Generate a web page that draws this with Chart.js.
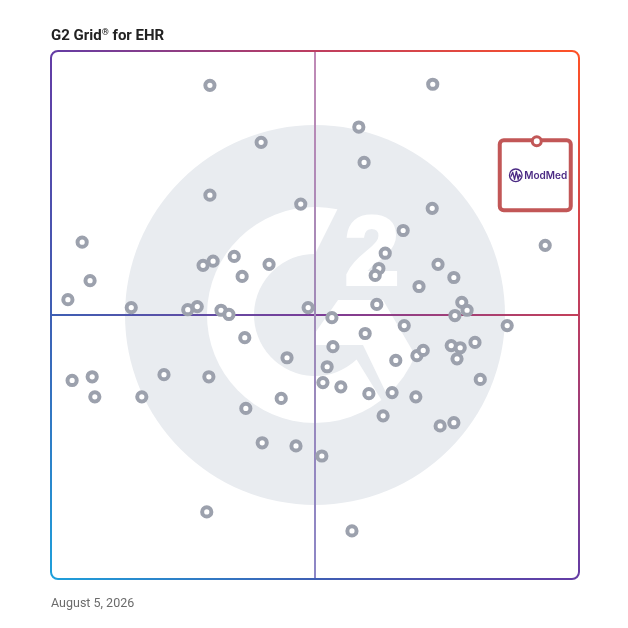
<!DOCTYPE html>
<html>
<head>
<meta charset="utf-8">
<script src="https://cdn.jsdelivr.net/npm/chart.js@4.4.1/dist/chart.umd.min.js"></script>
<style>
  html, body { margin: 0; padding: 0; background: #fff; }
  #wrap { position: relative; width: 628px; height: 628px; }
  #title { position: absolute; left: 51px; top: 28px; font: 700 15px Roboto, "Liberation Sans", sans-serif; color: #222; line-height: 15px; white-space: nowrap; }
  #title sup { font-size: 9px; vertical-align: 5px; line-height: 0; }
  #date { position: absolute; left: 51px; top: 597px; font: 400 12.5px Roboto, "Liberation Sans", sans-serif; color: #6b6b6b; line-height: 12.5px; white-space: nowrap; }
  canvas { position: absolute; left: 0; top: 0; }
</style>
</head>
<body>
<div id="wrap">
  <canvas id="c" width="628" height="628"></canvas>
  <div id="title">G2 Grid<sup>®</sup> for EHR</div>
  <div id="date">August 5, 2026</div>
</div>
<script>
// Satisfaction (x) and Market Presence (y), 0–100 scale
const satisfaction = [30.1,39.8,30.1,47.3,5.9,7.4,3.2,15.2,28.8,30.7,
  34.7,36.2,41.3,25.9,27.7,32.2,33.7,48.7,72.3,58.3,
  59.3,72.2,66.7,93.6,63.3,62.1,61.4,73.3,76.3,69.7,
  61.7,77.8,78.8,76.5,53.2,86.4,36.7,44.7,4.0,7.8,
  8.3,21.4,29.9,17.2,43.6,36.9,40.0,46.4,29.5,51.3,
  59.5,66.9,53.4,52.3,51.5,54.9,65.3,69.3,70.5,75.8,
  77.5,76.9,80.3,81.3,60.2,64.6,69.1,62.9,73.7,76.3,57.0];
const marketPresence = [93.5,82.7,72.7,71.0,63.8,56.5,52.9,51.4,59.4,60.2,
  61.1,57.3,59.6,51.0,51.6,50.9,50.1,51.4,93.7,85.6,
  78.9,70.2,66.0,63.2,61.7,58.8,57.5,59.6,57.1,55.4,
  52.0,52.4,50.9,49.9,49.5,48.0,45.7,41.9,37.6,38.3,
  34.5,38.7,38.3,34.5,34.2,32.3,25.8,25.2,12.7,23.3,
  46.5,48.0,44.0,40.2,37.2,36.4,41.4,42.3,43.3,44.2,
  43.8,41.7,44.8,37.8,35.1,35.3,34.5,30.9,29.0,29.6,9.1];
const highlightName = ['ModMed'];
const highlightX = [92.0];
const highlightY = [82.9];
const axisMin = 0, axisMax = 100, axisMid = 50;

const deg = d => d * Math.PI / 180;

function frameGradient(ctx, a, alpha) {
  const g = ctx.createLinearGradient(a.left, a.bottom, a.right, a.top);
  g.addColorStop(0, `rgba(30,160,219,${alpha})`);
  g.addColorStop(0.25, `rgba(62,95,180,${alpha})`);
  g.addColorStop(0.5, `rgba(100,60,165,${alpha})`);
  g.addColorStop(0.75, `rgba(190,62,96,${alpha})`);
  g.addColorStop(1, `rgba(255,82,38,${alpha})`);
  return g;
}

const backdrop = {
  id: 'backdrop',
  beforeDatasetsDraw(chart) {
    const { ctx, chartArea: a, scales: { x, y } } = chart;
    const cx = x.getPixelForValue(axisMid), cy = y.getPixelForValue(axisMid);
    const s = (a.right - a.left) / 528;
    ctx.save();
    // watermark disk
    ctx.fillStyle = '#e9ecf0';
    ctx.beginPath(); ctx.arc(cx, cy, 190 * s, 0, Math.PI * 2); ctx.fill();
    // white G arc
    ctx.fillStyle = '#ffffff';
    ctx.beginPath();
    ctx.arc(cx, cy, 108 * s, deg(-78), deg(52), true);
    ctx.arc(cx, cy, 61 * s, deg(47), deg(-90), false);
    ctx.closePath(); ctx.fill();
    // G crossbar + leg
    ctx.beginPath();
    ctx.moveTo(cx + 23 * s, cy - 15 * s);
    ctx.lineTo(cx + 68 * s, cy - 15 * s);
    ctx.lineTo(cx + 100 * s, cy + 40 * s);
    ctx.arc(cx, cy, 108 * s, Math.atan2(40, 100), Math.atan2(80, 72), false);
    ctx.lineTo(cx + 48 * s, cy + 30 * s);
    ctx.lineTo(cx + 0 * s, cy + 30 * s);
    ctx.lineTo(cx + 0 * s, cy + 18 * s);
    ctx.closePath(); ctx.fill();
    // "2"
    ctx.font = `900 ${97 * s}px "Liberation Sans", Arial, sans-serif`;
    ctx.textAlign = 'center'; ctx.textBaseline = 'alphabetic';
    ctx.lineWidth = 4; ctx.strokeStyle = '#ffffff'; ctx.lineJoin = 'miter';
    ctx.strokeText('2', cx + 57 * s, cy - 31 * s);
    ctx.fillText('2', cx + 57 * s, cy - 31 * s);

    // quadrant lines
    ctx.lineWidth = 2;
    const hg = ctx.createLinearGradient(a.left, 0, a.right, 0);
    hg.addColorStop(0, '#3e5fb4'); hg.addColorStop(0.5, '#7a3d98'); hg.addColorStop(1, '#c4405a');
    ctx.strokeStyle = hg;
    ctx.beginPath(); ctx.moveTo(a.left, cy); ctx.lineTo(a.right, cy); ctx.stroke();
    const vg = ctx.createLinearGradient(0, a.top, 0, a.bottom);
    vg.addColorStop(0, '#c08ab6'); vg.addColorStop(0.5, '#a08ab8'); vg.addColorStop(1, '#8c86c6');
    ctx.strokeStyle = vg;
    ctx.beginPath(); ctx.moveTo(cx, a.top); ctx.lineTo(cx, a.bottom); ctx.stroke();

    // frame
    ctx.strokeStyle = frameGradient(ctx, a, 1);
    ctx.lineWidth = 2;
    ctx.beginPath();
    ctx.roundRect(a.left, a.top, a.right - a.left, a.bottom - a.top, 7);
    ctx.stroke();

    // highlight box
    const meta = chart.getDatasetMeta(0);
    meta.data.forEach((pt, i) => {
      const px = pt.x, py = pt.y;
      ctx.fillStyle = '#ffffff';
      ctx.strokeStyle = '#c25757';
      ctx.lineWidth = 4;
      ctx.beginPath();
      ctx.roundRect(px - 37, py - 1, 71, 70, 4);
      ctx.fill(); ctx.stroke();
      // logo icon
      const ix = px - 21, iy = py + 34;
      ctx.strokeStyle = '#4b2a84';
      ctx.lineWidth = 1.3;
      ctx.beginPath(); ctx.arc(ix, iy, 6.3, 0, Math.PI * 2); ctx.stroke();
      ctx.lineJoin = 'round';
      ctx.beginPath();
      ctx.moveTo(ix - 5, iy + 1.5);
      ctx.lineTo(ix - 3, iy - 3);
      ctx.lineTo(ix - 1.2, iy + 4);
      ctx.lineTo(ix + 0.6, iy - 4);
      ctx.lineTo(ix + 2.4, iy + 4);
      ctx.lineTo(ix + 3.6, iy - 1);
      ctx.lineTo(ix + 5, iy + 1.5);
      ctx.stroke();
      ctx.fillStyle = '#4b2a84';
      ctx.font = '600 10px Inter, Roboto, sans-serif';
      ctx.textAlign = 'left'; ctx.textBaseline = 'middle';
      ctx.fillText(highlightName[i], px - 12.5, iy + 0.5);
    });
    ctx.restore();
  }
};

new Chart(document.getElementById('c'), {
  type: 'scatter',
  data: {
    datasets: [
      {
        label: highlightName[0],
        data: highlightX.map((v, i) => ({ x: v, y: highlightY[i] })),
        pointRadius: 4.5,
        borderWidth: 3,
        borderColor: '#c25757',
        backgroundColor: '#ffffff',
        order: 0
      },
      {
        label: 'Products',
        data: satisfaction.map((v, i) => ({ x: v, y: marketPresence[i] })),
        pointRadius: 4.6,
        borderWidth: 4,
        borderColor: '#9ca1ad',
        backgroundColor: '#ffffff',
        order: 1
      }
    ]
  },
  options: {
    responsive: false,
    animation: false,
    events: [],
    layout: { padding: { left: 51, top: 51, right: 49, bottom: 49 } },
    scales: {
      x: { type: 'linear', min: axisMin, max: axisMax, display: false },
      y: { type: 'linear', min: axisMin, max: axisMax, display: false }
    },
    plugins: { legend: { display: false }, tooltip: { enabled: false }, title: { display: false } }
  },
  plugins: [backdrop]
});
</script>
</body>
</html>
